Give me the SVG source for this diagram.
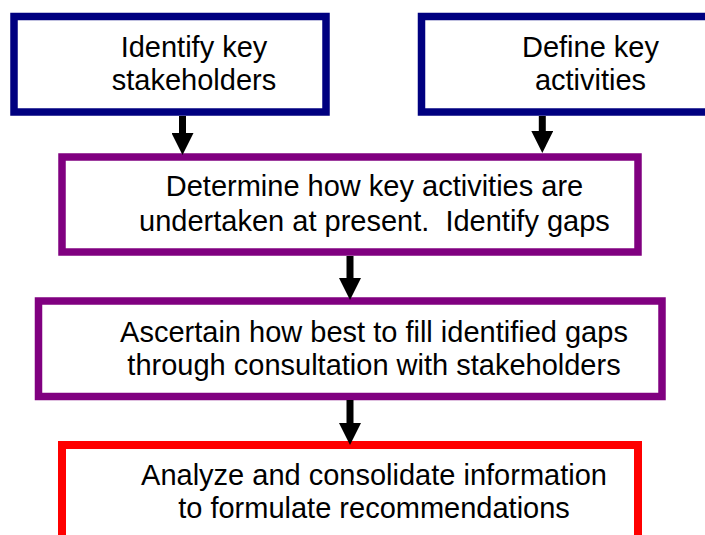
<svg xmlns="http://www.w3.org/2000/svg" width="705" height="535" viewBox="0 0 705 535">
  <style>
    .box { fill: #ffffff; stroke-width: 7.5; }
    .navy { stroke: #000080; }
    .purple { stroke: #800080; }
    .red { stroke: #ff0000; stroke-width: 8; }
    .label { font-family: "Liberation Sans", Arial, sans-serif; font-size: 29px; fill: #000000; text-anchor: middle; }
    .flow { stroke: #000000; stroke-width: 7; fill: none; marker-end: url(#head); }
  </style>
  <defs>
    <marker id="head" viewBox="0 0 22 22" refX="0" refY="11" markerWidth="22" markerHeight="22" markerUnits="userSpaceOnUse" orient="auto">
      <path d="M0,0 L22,11 L0,22 Z" fill="#000000"/>
    </marker>
  </defs>
  <rect width="705" height="535" fill="#ffffff"/>

  <g id="stakeholders">
    <rect class="box navy" x="14" y="16.5" width="312" height="95.5"/>
    <text class="label" x="194" y="56.5">Identify key</text>
    <text class="label" x="194" y="90">stakeholders</text>
  </g>

  <g id="activities">
    <rect class="box navy" x="421.5" y="16.5" width="320" height="95.5"/>
    <text class="label" x="590.5" y="56.5">Define key</text>
    <text class="label" x="590.5" y="90">activities</text>
  </g>

  <g id="current-practice">
    <rect class="box purple" x="62" y="157" width="576" height="95"/>
    <text class="label" x="374.5" y="196">Determine how key activities are</text>
    <text class="label" x="374.5" y="231" xml:space="preserve">undertaken at present.  Identify gaps</text>
  </g>

  <g id="fill-gaps">
    <rect class="box purple" x="38.5" y="301" width="623.5" height="95.5"/>
    <text class="label" x="374" y="341.5">Ascertain how best to fill identified gaps</text>
    <text class="label" x="374" y="374.5">through consultation with stakeholders</text>
  </g>

  <g id="recommendations">
    <rect class="box red" x="62" y="445" width="576" height="130"/>
    <text class="label" x="374" y="484.5">Analyze and consolidate information</text>
    <text class="label" x="374" y="517.5">to formulate recommendations</text>
  </g>

  <g id="connectors">
    <line class="flow" x1="182.5" y1="116" x2="182.5" y2="133"/>
    <line class="flow" x1="542.3" y1="116" x2="542.3" y2="131"/>
    <line class="flow" x1="350" y1="256" x2="350" y2="278"/>
    <line class="flow" x1="350" y1="400" x2="350" y2="423"/>
  </g>
</svg>
